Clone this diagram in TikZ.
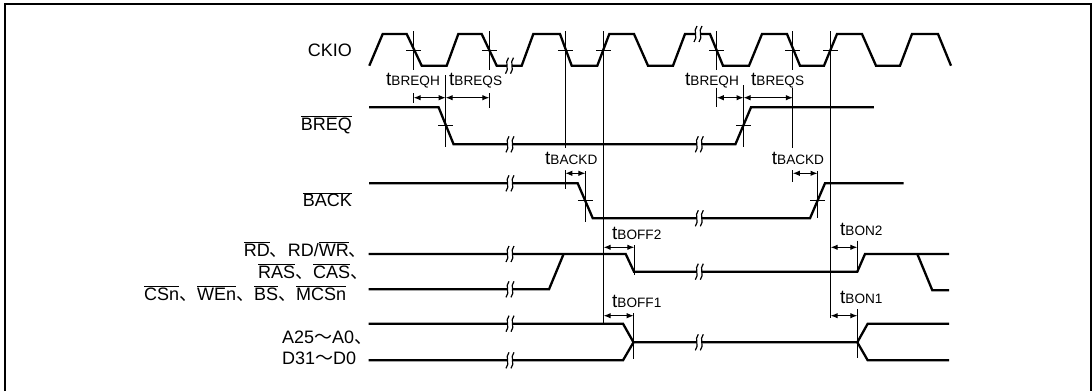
\documentclass[tikz,border=0pt]{standalone}
\usepackage{fontspec}
\setmainfont{Liberation Sans}
\newfontfamily\cjkfont{Noto Sans CJK JP}
\usetikzlibrary{arrows.meta}
\newcommand{\ovl}[1]{$\overline{\mbox{#1}}$}
\newcommand{\tname}[1]{{\fontsize{19}{19}\selectfont t}{\fontsize{13.6}{14}\selectfont #1}}
\newcommand{\cjkc}{{\cjkfont 、}}
\newcommand{\cjkw}{{\cjkfont 〜}}

\begin{document}
\begin{tikzpicture}[
  x=1pt, y=-1pt,
  border/.style={line width=2.2pt},
  sig/.style={line width=2.3pt, line join=miter},
  wit/.style={line width=1pt},
  dim/.style={line width=1pt, {Latex[length=7pt,width=5.5pt]}-{Latex[length=7pt,width=5.5pt]}},
  signame/.style={anchor=base east, inner sep=0pt, font=\fontsize{18}{18}\selectfont},
  lab/.style={anchor=base west, inner sep=0pt, font=\fontsize{18}{18}\selectfont},
  tlab/.style={anchor=base west, inner sep=0pt},
]
  \useasboundingbox (0,0) rectangle (1092,391);
  \draw[border] (5,391) -- (5,4) -- (1091,4) -- (1091,391);

  % Signal names
  \node[signame] (ckio) at (352,56.7) {CKIO};
  \node[signame] (breq) at (352,130) {\ovl{BREQ}};
  \node[signame] (back) at (352,206.7) {\ovl{BACK}};
  \node[lab] (rd) at (243.6,256) {\ovl{RD}\cjkc RD/\ovl{WR}\cjkc};
  \node[lab] (ras) at (258,278.3) {\ovl{RAS}\cjkc\ovl{CAS}\cjkc};
  \node[lab] (csn) at (144,300) {\ovl{CSn}\cjkc\ovl{WEn}\cjkc\ovl{BS}\cjkc\ovl{MCSn}};
  \node[lab] (addr) at (282,343) {A25\cjkw A0\cjkc};
  \node[lab] (data) at (282,364) {D31\cjkw D0};

  % Waveforms
  \draw[sig] (369.3,65.7) -- (382.7,34) -- (406.7,34) -- (421.7,65.7) -- (446.7,65.7) -- (458.3,34) -- (481.7,34) -- (496.7,65.7)
    -- (521.7,65.7) -- (533.3,34) -- (560,34) -- (571.7,65.7) -- (597.3,65.7) -- (609.3,34) -- (634,34) -- (648,65.7) -- (673,65.7)
    -- (685,34) -- (710,34) -- (723,65.7) -- (749,65.7) -- (762,34) -- (787,34) -- (800,65.7) -- (824,65.7) -- (837,34)
    -- (862,34) -- (876,65.7) -- (900,65.7) -- (912,34) -- (938,34) -- (951,65.7);
  \draw[sig] (369,107.3) -- (438.6,107.3) -- (453.6,144.3) -- (735.4,144.3) -- (751,107.3) -- (873.8,107.3);
  \draw[sig] (369,183.3) -- (577.7,183.3) -- (592.8,218.3) -- (810,218.3) -- (825,183.3) -- (903.7,183.3);
  \draw[sig] (368.6,254) -- (625.7,254) -- (634,271.7) -- (857.3,271.7) -- (865,254) -- (949,254);
  \draw[sig] (368.6,289.3) -- (549,289.3) -- (563.6,254);
  \draw[sig] (917.3,254) -- (932.3,290.3) -- (949,290.3);
  \draw[sig] (368.6,323.7) -- (623,323.7) -- (633.5,342.3) -- (857.3,342.3) -- (867.7,323.7) -- (949,323.7);
  \draw[sig] (368.6,360.3) -- (623,360.3) -- (633.5,342.3);
  \draw[sig] (857.3,342.3) -- (867.7,360.3) -- (949,360.3);

  % Breaks
  \foreach \bx/\by in {509.5/65.7, 510/144.3, 510/183.3, 510/254, 510/289.3, 510/323.7, 510/360.3,
    698/34, 699.3/144.3, 699.3/218.3, 699.3/271.7, 699.3/342.3} {
    \fill[white] (\bx-2.5,\by-3) rectangle (\bx+2.5,\by+3);
    \foreach \dx in {-2.5,2.5}
      \draw[line width=1.2pt] (\bx+\dx+1.5,\by-8) .. controls (\bx+\dx-3,\by-3) and (\bx+\dx+3,\by+3) .. (\bx+\dx-1.5,\by+8);
  }

  % Crossing ticks
  \foreach \tx/\ty in {413.7/50, 489.3/50, 565.3/50, 603.7/50, 716.8/50, 792.8/50, 830.7/50, 445.7/125.7, 743.5/125.7, 585.4/200.7, 817.5/200.7}
    \draw[wit] (\tx-7.5,\ty) -- (\tx+7.5,\ty);

  % Timing lines
  \draw[wit] (413.7,31) -- (413.7,70) (413.7,93.3) -- (413.7,102.7);
  \draw[wit] (489.3,31) -- (489.3,70) (489.3,93.3) -- (489.3,108.3);
  \draw[wit] (445.7,75) -- (445.7,147.3);
  \draw[wit] (565.3,31) -- (565.3,148.3) (565.3,170) -- (565.3,189);
  \draw[wit] (603.7,31) -- (603.7,325);
  \draw[wit] (716.8,31) -- (716.8,70) (716.8,87.7) -- (716.8,107.3);
  \draw[wit] (792.8,31) -- (792.8,70) (792.8,88) -- (792.8,148) (792.8,170) -- (792.8,181.7);
  \draw[wit] (743.5,85) -- (743.5,147.3);
  \draw[wit] (830.7,31) -- (830.7,318);
  \draw[wit] (585.4,171) -- (585.4,222);
  \draw[wit] (817.5,171) -- (817.5,218);
  \draw[wit] (634.3,245) -- (634.3,275) (633.7,313) -- (633.7,359);
  \draw[wit] (857.3,240.7) -- (857.3,271.7) (857.3,309.3) -- (857.3,358.3);

  % Dimensions
  \draw[dim] (413.7,97.7) -- (445.7,97.7);
  \draw[dim] (445.7,97.7) -- (489.3,97.7);
  \draw[dim] (716.8,97.7) -- (743.5,97.7);
  \draw[dim] (743.5,97.7) -- (792.8,97.7);
  \draw[dim] (565.3,173.3) -- (585.4,173.3);
  \draw[dim] (792.8,173.3) -- (817.5,173.3);
  \draw[dim] (603.7,247.3) -- (634.3,247.3);
  \draw[dim] (603.7,315.7) -- (633.7,315.7);
  \draw[dim] (830.7,247.3) -- (857.3,247.3);
  \draw[dim] (830.7,315.7) -- (857.3,315.7);

  % Timing names
  \node[tlab] (breqh1) at (386,85) {\tname{BREQH}};
  \node[tlab] (breqs1) at (449,85) {\tname{BREQS}};
  \node[tlab] (breqh2) at (685,85) {\tname{BREQH}};
  \node[tlab] (breqs2) at (751,85) {\tname{BREQS}};
  \node[tlab] (backd1) at (545,164) {\tname{BACKD}};
  \node[tlab] (backd2) at (771.7,164) {\tname{BACKD}};
  \node[tlab] (boff2) at (612,239) {\tname{BOFF2}};
  \node[tlab] (boff1) at (612,307.3) {\tname{BOFF1}};
  \node[tlab] (bon2) at (840,235) {\tname{BON2}};
  \node[tlab] (bon1) at (840,303.3) {\tname{BON1}};
\end{tikzpicture}
\end{document}
